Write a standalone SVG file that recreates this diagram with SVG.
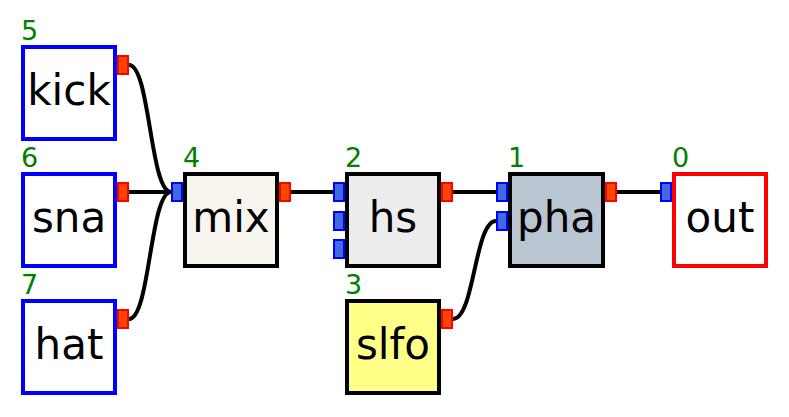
<svg xmlns="http://www.w3.org/2000/svg" width="789" height="417" viewBox="0 0 789 417">
<style>
.box{stroke-width:4}
.src{fill:#ffffff;stroke:#0000ff}
.blk{stroke:#000000}
.name{font-family:"DejaVu Sans",sans-serif;font-size:42px;fill:#000000;text-anchor:middle}
.num{font-family:"DejaVu Sans",sans-serif;font-size:27px;fill:#008000}
.op{fill:#ff4500;stroke:#ff0000;stroke-width:2}
.ip{fill:#4169e1;stroke:#0000ff;stroke-width:2}
.wire{fill:none;stroke:#000000;stroke-width:4}
</style>
<rect width="789" height="417" fill="#ffffff"/>
<g id="connectors">
<path class="wire" d="M129,65 C150,65 150,192 171,192"/>
<path class="wire" d="M129,192 L171,192"/>
<path class="wire" d="M129,319 C150,319 150,192 171,192"/>
<path class="wire" d="M291,192 L333,192"/>
<path class="wire" d="M453,192 L496,192"/>
<path class="wire" d="M453,319 C474.5,319 474.5,221 496,221"/>
<path class="wire" d="M616,192 L660,192"/>
</g>
<g id="kick">
<rect class="box src" x="23" y="47" width="92" height="92"/>
<text class="name" x="69" y="105">kick</text>
<text class="num" x="21" y="40">5</text>
<rect class="op" x="118" y="56" width="10" height="18"/>
</g>
<g id="sna">
<rect class="box src" x="23" y="174" width="92" height="92"/>
<text class="name" x="69" y="232">sna</text>
<text class="num" x="21" y="167">6</text>
<rect class="op" x="118" y="183" width="10" height="18"/>
</g>
<g id="hat">
<rect class="box src" x="23" y="301" width="92" height="92"/>
<text class="name" x="69" y="359">hat</text>
<text class="num" x="21" y="294">7</text>
<rect class="op" x="118" y="310" width="10" height="18"/>
</g>
<g id="mix">
<rect class="box blk" x="185" y="174" width="92" height="92" fill="#f7f5ed"/>
<text class="name" x="231" y="232">mix</text>
<text class="num" x="183" y="167">4</text>
<rect class="ip" x="172" y="183" width="10" height="18"/>
<rect class="op" x="280" y="183" width="10" height="18"/>
</g>
<g id="hs">
<rect class="box blk" x="347" y="174" width="92" height="92" fill="#ededed"/>
<text class="name" x="393" y="232">hs</text>
<text class="num" x="345" y="167">2</text>
<rect class="ip" x="334" y="183" width="10" height="18"/>
<rect class="ip" x="334" y="212" width="10" height="18"/>
<rect class="ip" x="334" y="240" width="10" height="18"/>
<rect class="op" x="442" y="183" width="10" height="18"/>
</g>
<g id="slfo">
<rect class="box blk" x="347" y="301" width="92" height="92" fill="#ffff88"/>
<text class="name" x="393" y="359">slfo</text>
<text class="num" x="345" y="294">3</text>
<rect class="op" x="442" y="310" width="10" height="18"/>
</g>
<g id="pha">
<rect class="box blk" x="510" y="174" width="93" height="92" fill="#b9c6d2"/>
<text class="name" x="556.5" y="232">pha</text>
<text class="num" x="508" y="167">1</text>
<rect class="ip" x="497" y="183" width="10" height="18"/>
<rect class="ip" x="497" y="212" width="10" height="18"/>
<rect class="op" x="606" y="183" width="10" height="18"/>
</g>
<g id="out">
<rect class="box" x="674" y="174" width="92" height="92" fill="#ffffff" stroke="#ff0000"/>
<text class="name" x="720" y="232">out</text>
<text class="num" x="672" y="167">0</text>
<rect class="ip" x="661" y="183" width="10" height="18"/>
</g>
</svg>
